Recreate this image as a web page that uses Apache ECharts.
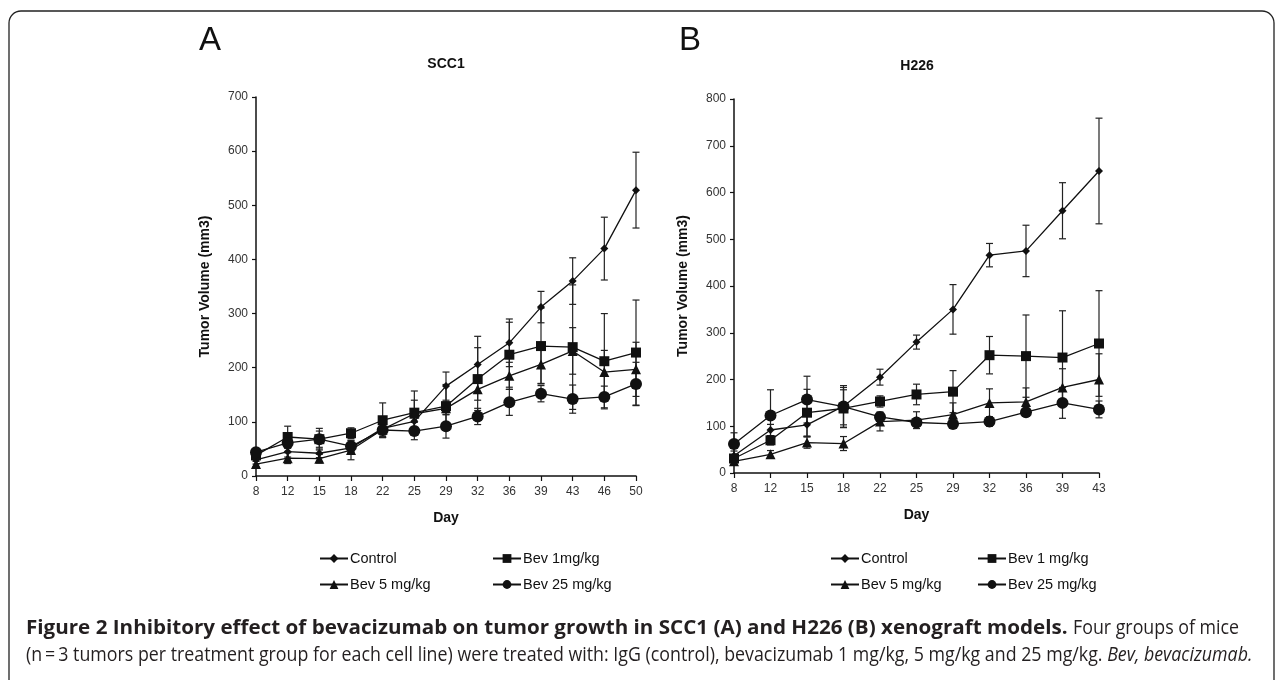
<!DOCTYPE html>
<html>
<head>
<meta charset="utf-8">
<script src="https://cdn.jsdelivr.net/npm/echarts@6/dist/echarts.min.js"></script>
<style>html,body{margin:0;padding:0;background:#fff;}#c{width:1282px;height:680px;}</style>
</head>
<body>
<div id="c"></div>
<script>
// ---- Data: Panel A (SCC1) ----
const daysA = ['8','12','15','18','22','25','29','32','36','39','43','46','50'];
const controlA   = [30, 45, 42, 52, 88, 101, 166, 206, 246, 312, 360, 420, 528];
const controlAErr= [8, 10, 8, 8, 12, 15, 26, 52, 44, 29, 43, 58, 70];
const bev1A      = [38, 72, 68, 79, 103, 117, 129, 179, 224, 240, 238, 212, 228];
const bev1AErr   = [6, 20, 20, 10, 32, 40, 40, 58, 60, 70, 115, 88, 97];
const bev5A      = [22, 33, 32, 48, 86, 115, 125, 160, 185, 206, 231, 192, 197];
const bev5AErr   = [5, 10, 8, 18, 15, 25, 12, 20, 25, 35, 43, 40, 50];
const bev25A     = [44, 61, 68, 55, 85, 83, 92, 110, 136, 152, 142, 146, 170];
const bev25AErr  = [5, 10, 15, 10, 12, 16, 22, 15, 24, 15, 26, 20, 40];
// ---- Data: Panel B (H226) ----
const daysB = ['8','12','15','18','22','25','29','32','36','39','43'];
const controlB   = [37, 92, 103, 143, 205, 280, 350, 466, 475, 561, 646];
const controlBErr= [10, 12, 25, 40, 17, 15, 53, 25, 55, 60, 113];
const bev1B      = [31, 70, 129, 138, 153, 168, 174, 252, 250, 247, 277];
const bev1BErr   = [5, 10, 50, 40, 12, 22, 45, 40, 88, 100, 113];
const bev5B      = [25, 40, 65, 63, 110, 113, 125, 150, 152, 183, 200];
const bev5BErr   = [3, 8, 12, 15, 20, 18, 25, 30, 30, 40, 55];
const bev25B     = [62, 123, 157, 142, 120, 108, 105, 110, 130, 150, 136];
const bev25BErr  = [24, 55, 50, 45, 10, 8, 5, 10, 8, 33, 18];

const namesA = ['Control', 'Bev 1mg/kg', 'Bev 5 mg/kg', 'Bev 25 mg/kg'];
const namesB = ['Control', 'Bev 1 mg/kg', 'Bev 5 mg/kg', 'Bev 25 mg/kg'];
const yTicksA = {min: 0, max: 700, interval: 100};
const yTicksB = {min: 0, max: 800, interval: 100};

const captionBold1 = 'Figure 2 Inhibitory effect of bevacizumab on tumor growth in SCC1 (A) and H226 (B) xenograft models.';
const captionReg1 = 'Four groups of mice';
const captionReg2 = '(n\u2009=\u20093 tumors per treatment group for each cell line) were treated with: IgG (control), bevacizumab 1 mg/kg, 5 mg/kg and 25 mg/kg. ';
const captionIt2 = 'Bev, bevacizumab.';

const symbols = ['diamond', 'rect', 'triangle', 'circle'];
const symSizes = [8, 10, 10, 12];
const INK = '#111';
const FONT = '"Liberation Sans", Arial, sans-serif';
const CAPF = '"Open Sans", "Noto Sans", sans-serif';
const CAP_SIZE = 20;
const BOLD_SCALE = 1.03;
const REG_SCALE = 0.89;

function textWidth(str, font) {
  const ctx = document.createElement('canvas').getContext('2d');
  ctx.font = font;
  return ctx.measureText(str).width;
}

function lineSeries(name, data, idx, k) {
  return {
    type: 'line', name: name, data: data,
    xAxisIndex: idx, yAxisIndex: idx,
    symbol: symbols[k], symbolSize: symSizes[k],
    lineStyle: {color: INK, width: 1.3},
    itemStyle: {color: INK, borderWidth: 0},
    emphasis: {disabled: true},
    animation: false, z: 3
  };
}
function errSeries(vals, errs, idx) {
  return {
    type: 'custom', xAxisIndex: idx, yAxisIndex: idx,
    data: vals.map((v, i) => [i, v - errs[i], v + errs[i]]),
    renderItem: function (params, api) {
      const lo = api.coord([api.value(0), api.value(1)]);
      const hi = api.coord([api.value(0), api.value(2)]);
      const w = 3.5;
      const st = {stroke: '#222', lineWidth: 1.2};
      return {type: 'group', children: [
        {type: 'line', shape: {x1: lo[0], y1: lo[1], x2: hi[0], y2: hi[1]}, style: st},
        {type: 'line', shape: {x1: lo[0]-w, y1: lo[1], x2: lo[0]+w, y2: lo[1]}, style: st},
        {type: 'line', shape: {x1: hi[0]-w, y1: hi[1], x2: hi[0]+w, y2: hi[1]}, style: st}
      ]};
    },
    silent: true, animation: false, z: 2
  };
}

const series = [];
const dataA = [controlA, bev1A, bev5A, bev25A];
const errA = [controlAErr, bev1AErr, bev5AErr, bev25AErr];
const dataB = [controlB, bev1B, bev5B, bev25B];
const errB = [controlBErr, bev1BErr, bev5BErr, bev25BErr];
for (let k = 0; k < 4; k++) {
  series.push(errSeries(dataA[k], errA[k], 0));
  series.push(lineSeries(namesA[k], dataA[k], 0, k));
}
for (let k = 0; k < 4; k++) {
  series.push(errSeries(dataB[k], errB[k], 1));
  series.push(lineSeries(namesB[k], dataB[k], 1, k));
}

function xAxis(cats, idx) {
  return {
    type: 'category', gridIndex: idx, data: cats, boundaryGap: false,
    name: 'Day', nameLocation: 'middle', nameGap: 35,
    nameTextStyle: {fontFamily: FONT, fontWeight: 'bold', fontSize: 14, color: '#111'},
    axisLine: {lineStyle: {color: INK, width: 1.5}},
    axisTick: {show: true, length: 5, lineStyle: {color: INK, width: 1.2}},
    axisLabel: {fontFamily: FONT, fontSize: 12, color: '#333', margin: 10},
    splitLine: {show: false}
  };
}
function yAxis(t, idx) {
  return {
    type: 'value', gridIndex: idx, min: t.min, max: t.max, interval: t.interval,
    name: 'Tumor Volume (mm3)', nameLocation: 'middle', nameGap: 44,
    nameTextStyle: {fontFamily: FONT, fontWeight: 'bold', fontSize: 14, color: '#111'},
    axisLine: {show: true, lineStyle: {color: INK, width: 1.5}},
    axisTick: {show: true, length: 4, lineStyle: {color: INK, width: 1.2}},
    axisLabel: {fontFamily: FONT, fontSize: 12, color: '#333', margin: 8},
    splitLine: {show: false}
  };
}
function legend(data, left, top) {
  return {
    data: data, orient: 'vertical', left: left, top: top, itemGap: 11,
    itemWidth: 28, itemHeight: 11, selectedMode: false,
    textStyle: {fontFamily: FONT, fontSize: 14.5, color: '#111', padding: [0,0,0,-3]}
  };
}

const boldFont = 'bold ' + CAP_SIZE + 'px ' + CAPF;
const regFont = CAP_SIZE + 'px ' + CAPF;
const itFont = 'italic ' + CAP_SIZE + 'px ' + CAPF;
const capX = 26;
const boldW = textWidth(captionBold1 + ' ', boldFont) * BOLD_SCALE;

const chart = echarts.init(document.getElementById('c'), null, {renderer: 'canvas'});
chart.setOption({
  backgroundColor: '#fff',
  animation: false,
  grid: [
    {left: 256, top: 97, width: 380, height: 379},
    {left: 734, top: 99, width: 365, height: 374}
  ],
  xAxis: [xAxis(daysA, 0), xAxis(daysB, 1)],
  yAxis: [yAxis(yTicksA, 0), yAxis(yTicksB, 1)],
  legend: [
    legend([namesA[0], namesA[2]], 314, 546),
    legend([namesA[1], namesA[3]], 487, 546),
    legend([namesB[0], namesB[2]], 825, 546),
    legend([namesB[1], namesB[3]], 972, 546)
  ],
  series: series,
  graphic: [
    {type: 'rect', shape: {x: 9, y: 11, width: 1265, height: 700, r: 12},
     style: {fill: 'none', stroke: '#222', lineWidth: 1.3}, silent: true},
    {type: 'text', style: {x: 210, y: 41, text: 'A', font: '33px ' + FONT, fill: '#111', textAlign: 'center', textVerticalAlign: 'middle'}},
    {type: 'text', style: {x: 690, y: 41, text: 'B', font: '33px ' + FONT, fill: '#111', textAlign: 'center', textVerticalAlign: 'middle'}},
    {type: 'text', style: {x: 446, y: 64, text: 'SCC1', font: 'bold 14px ' + FONT, fill: '#111', textAlign: 'center', textVerticalAlign: 'middle'}},
    {type: 'text', style: {x: 917, y: 66, text: 'H226', font: 'bold 14px ' + FONT, fill: '#111', textAlign: 'center', textVerticalAlign: 'middle'}},
    {type: 'text', x: capX, y: 628, scaleX: BOLD_SCALE, style: {
      x: 0, y: 0, textVerticalAlign: 'middle', text: captionBold1, font: boldFont, fill: '#231f20'}},
    {type: 'text', x: capX + boldW, y: 628, scaleX: REG_SCALE, style: {
      x: 0, y: 0, textVerticalAlign: 'middle', text: captionReg1, font: regFont, fill: '#231f20'}},
    {type: 'text', x: capX, y: 655, scaleX: REG_SCALE, style: {
      x: 0, y: 0, textVerticalAlign: 'middle',
      text: '{r|' + captionReg2 + '}{i|' + captionIt2 + '}',
      rich: {
        r: {font: regFont, fill: '#231f20'},
        i: {font: itFont, fill: '#231f20'}
      }}}
  ]
});
</script>
</body>
</html>
